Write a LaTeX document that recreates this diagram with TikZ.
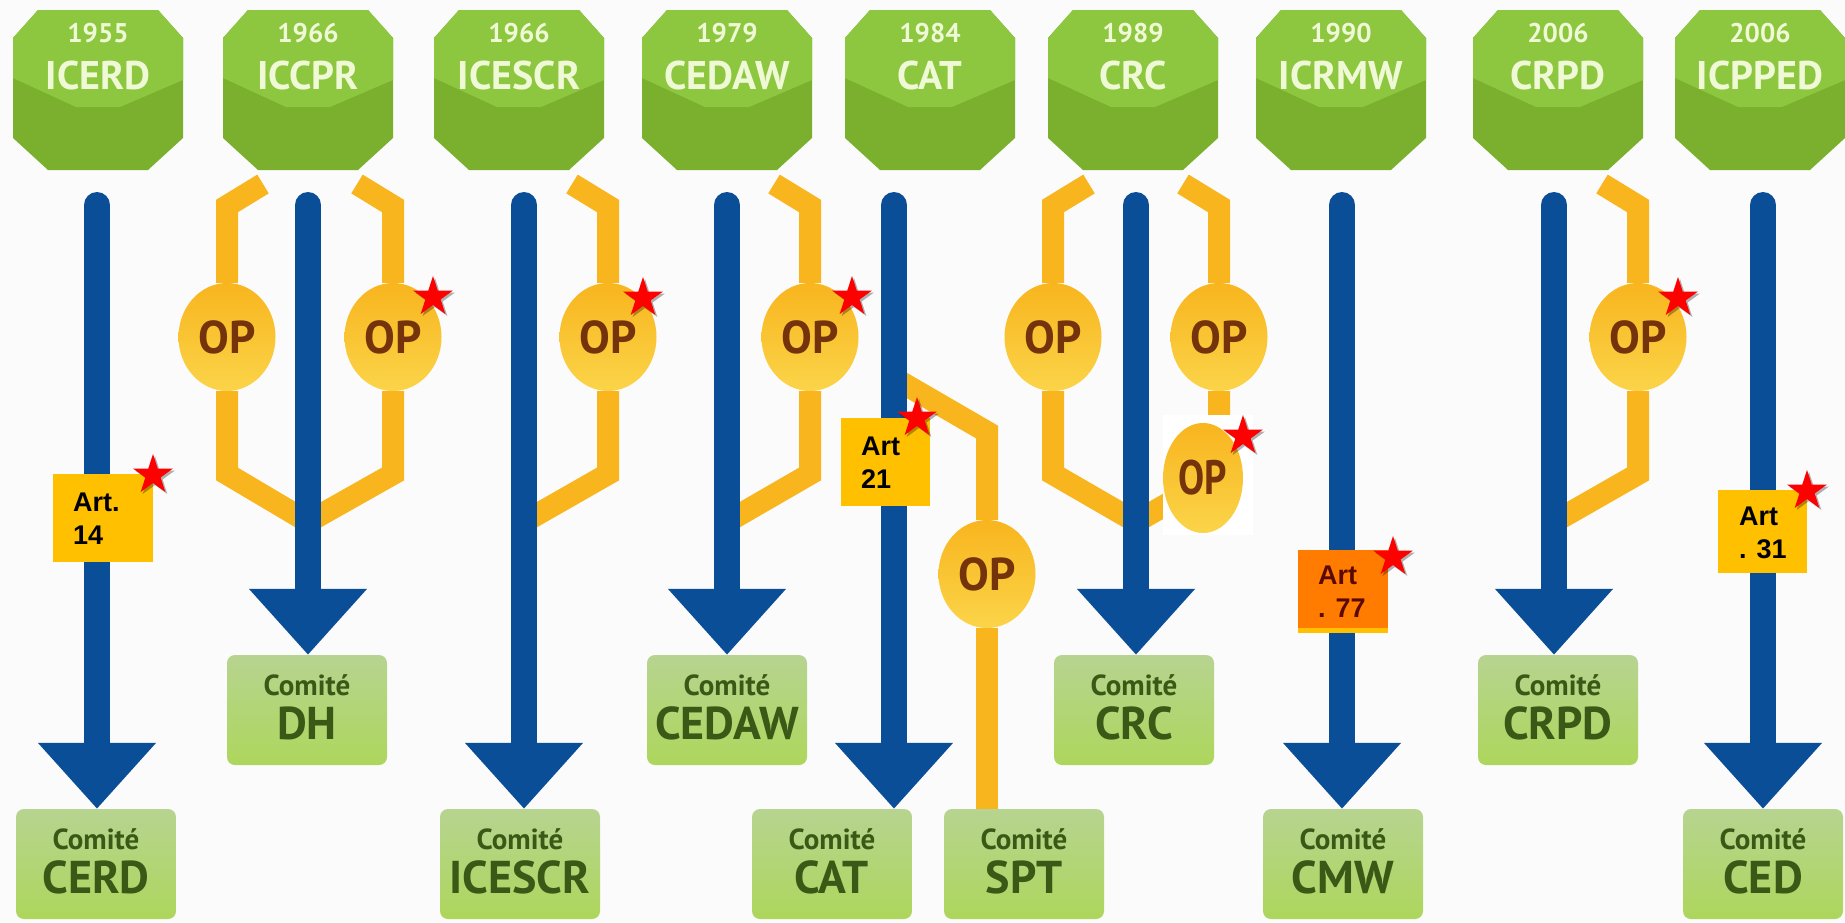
\documentclass[tikz,border=0pt]{standalone}
\usepackage{fontspec}
\setmainfont{PT Sans}
\newfontfamily\arialfont{Liberation Sans}
\usetikzlibrary{shapes.geometric,arrows.meta,shadows}
\definecolor{bgc}{HTML}{FBFBFB}
\definecolor{octtop}{HTML}{8DC63F}
\definecolor{octbot}{HTML}{7AB02D}
\definecolor{octtxt}{HTML}{EFF9D6}
\definecolor{arrowblue}{HTML}{0A4E98}
\definecolor{opgold}{HTML}{F8B51E}
\definecolor{oplight}{HTML}{FBD449}
\definecolor{opbrown}{HTML}{74330A}
\definecolor{boxtop}{HTML}{B7D490}
\definecolor{boxbot}{HTML}{ADD65C}
\definecolor{boxtxt}{HTML}{3B5916}
\definecolor{artgold}{HTML}{FFC000}
\definecolor{artorange}{HTML}{FF7C00}
\definecolor{maroon}{HTML}{5A0800}
\definecolor{starred}{HTML}{FF0000}
\pgfdeclarelayer{bg}
\pgfdeclarelayer{lines}
\pgfsetlayers{bg,lines,main}
\begin{document}
\begin{tikzpicture}[x=1pt,y=-1pt,
  yeartxt/.style={text=octtxt,font=\fontsize{27}{27}\selectfont\bfseries,inner sep=0pt},
  nametxt/.style={text=octtxt,font=\fontsize{40}{40}\selectfont\bfseries,inner sep=0pt},
  opnode/.style={ellipse,minimum width=97pt,minimum height=108pt,inner sep=0pt,top color=opgold,bottom color=oplight,text=opbrown,font=\fontsize{46}{46}\selectfont\bfseries},
  combox/.style={rounded corners=8pt,minimum width=160pt,minimum height=110pt,top color=boxtop,bottom color=boxbot,inner sep=0pt},
  comsmall/.style={anchor=base,text=boxtxt,font=\fontsize{29}{29}\selectfont\bfseries,inner sep=0pt},
  combig/.style={anchor=base,text=boxtxt,font=\fontsize{46}{46}\selectfont\bfseries,inner sep=0pt},
  artbox/.style={anchor=north west,inner sep=0pt,minimum width=90pt,minimum height=88pt},
  arttxt/.style={anchor=west,align=left,font=\arialfont\fontsize{27}{33}\selectfont\bfseries,inner sep=0pt},
  redstar/.style={star,star points=5,star point ratio=2.618,minimum size=42pt,inner sep=0pt,fill=starred,drop shadow={shadow xshift=2pt,shadow yshift=-2pt,opacity=0.3,fill=black}},
  opline/.style={draw=opgold,line width=22pt,line join=miter},
  shaft/.style={draw=arrowblue,line width=26pt,line cap=round,-{Triangle[width=114pt,length=66pt]}},
]
\useasboundingbox (0,0) rectangle (1845,922);
\begin{pgfonlayer}{bg}
\fill[bgc] (0,0) rectangle (1845,922);
\foreach \cx in {98,308,519,727,930,1133,1341,1558,1760}{
  \fill[octbot] (\cx-60,10) -- (\cx+60,10) -- (\cx+85,38) -- (\cx+85,138) -- (\cx+50,170) -- (\cx-50,170) -- (\cx-85,138) -- (\cx-85,38) -- cycle;
  \fill[octtop] (\cx-60,10) -- (\cx+60,10) -- (\cx+85,38) -- (\cx+85,80) -- (\cx+22,107) -- (\cx-22,107) -- (\cx-85,78) -- (\cx-85,38) -- cycle;
}
\end{pgfonlayer}
% treaty labels
\foreach \cx/\nm/\yr/\lb in {98/t1/1955/ICERD,308/t2/1966/ICCPR,519/t3/1966/ICESCR,727/t4/1979/CEDAW,930/t5/1984/CAT,1133/t6/1989/CRC,1341/t7/1990/ICRMW,1558/t8/2006/CRPD,1760/t9/2006/ICPPED}{
  \node[yeartxt] (\nm-y) at (\cx,33) {\yr};
  \node[nametxt] (\nm-n) at (\cx,75) {\lb};
}
% committee boxes
\foreach \bx/\by/\nm/\lb in {96/809/cerd/CERD,307/655/dh/DH,520/809/icescr/ICESCR,727/655/cedaw/CEDAW,832/809/cat/CAT,1024/809/spt/SPT,1134/655/crc/CRC,1343/809/cmw/CMW,1558/655/crpd/CRPD,1763/809/ced/CED}{
  \node[combox] (\nm) at (\bx,\by+55) {};
  \node[comsmall] (\nm-a) at (\bx,\by+40) {Comité};
  \node[combig] (\nm-b) at (\bx,\by+84) {\lb};
}
% OP nodes
\node[opnode] (opA1) at (227,337) {OP};
\node[opnode] (opA2) at (393,337) {OP};
\node[opnode] (opB) at (608,337) {OP};
\node[opnode] (opC) at (810,337) {OP};
\node[opnode] (opD) at (987,574) {OP};
\node[opnode] (opE1) at (1053,337) {OP};
\node[opnode] (opE2) at (1219,337) {OP};
\node[opnode] (opF) at (1638,337) {OP};
\fill[white] (1163,415) rectangle (1253,535);
\node[opnode,minimum width=80pt,minimum height=110pt] (opE3) at (1203,478) {\scalebox{0.85}[1.05]{OP}};
% shaft starts
\coordinate (c1) at (97,205);
\coordinate (c2) at (308,205);
\coordinate (c3) at (524,205);
\coordinate (c4) at (727,205);
\coordinate (c5) at (894,205);
\coordinate (c6) at (1136,205);
\coordinate (c7) at (1342,205);
\coordinate (c8) at (1554,205);
\coordinate (c9) at (1763,205);
\begin{pgfonlayer}{lines}
% optional protocol branches
\draw[opline] (263,184) -- (227,206) -- (opA1);
\draw[opline] (opA1) -- (227,474) -- (c2 |- 0,522);
\draw[opline] (357,184) -- (393,206) -- (opA2);
\draw[opline] (opA2) -- (393,474) -- (c2 |- 0,522);
\draw[opline] (572,184) -- (608,206) -- (opB);
\draw[opline] (opB) -- (608,474) -- (c3 |- 0,522);
\draw[opline] (774,184) -- (810,206) -- (opC);
\draw[opline] (opC) -- (810,474) -- (c4 |- 0,522);
\draw[opline] (c5 |- 0,378) -- (987,432) -- (opD);
\draw[opline] (opD) -- (opD |- spt.north);
\draw[opline] (1089,184) -- (1053,206) -- (opE1);
\draw[opline] (opE1) -- (1053,474) -- (c6 |- 0,522);
\draw[opline] (1183,184) -- (1219,206) -- (opE2);
\draw[opline] (opE2) -- (1219,474) -- (c6 |- 0,522);
\draw[opline] (1602,184) -- (1638,206) -- (opF);
\draw[opline] (opF) -- (1638,474) -- (c8 |- 0,522);
% blue arrows
\draw[shaft] (c1) -- (c1 |- cerd.north);
\draw[shaft] (c2) -- (c2 |- dh.north);
\draw[shaft] (c3) -- (c3 |- icescr.north);
\draw[shaft] (c4) -- (c4 |- cedaw.north);
\draw[shaft] (c5) -- (c5 |- cat.north);
\draw[shaft] (c6) -- (c6 |- crc.north);
\draw[shaft] (c7) -- (c7 |- cmw.north);
\draw[shaft] (c8) -- (c8 |- crpd.north);
\draw[shaft] (c9) -- (c9 |- ced.north);
\end{pgfonlayer}
% article labels
\node[artbox,fill=artgold,minimum width=100pt] (art14) at (53,474) {};
\node[arttxt] (art14t) at (73,519) {Art.\\14};
\node[artbox,fill=artgold,minimum width=89pt] (art21) at (841,418) {};
\node[arttxt] (art21t) at (861,463) {Art\\21};
\node[artbox,fill=artorange,minimum height=83pt] (art77) at (1298,550) {};
\fill[artgold] (1298,628) rectangle (1388,633);
\node[arttxt,text=maroon] (art77t) at (1318,592) {Art\\. 77};
\node[artbox,fill=artgold,minimum width=89pt,minimum height=83pt] (art31) at (1718,490) {};
\node[arttxt] (art31t) at (1739,533) {Art\\. 31};
% stars
\foreach \sx/\sy/\nm in {153/475/s1,433/297/s2,643/298/s3,852/297/s4,917/418/s5,1243/436/s6,1393/557/s7,1678/298/s8,1807/491/s9}{
  \node[redstar] (\nm) at (\sx,\sy) {};
}
\end{tikzpicture}
\end{document}
